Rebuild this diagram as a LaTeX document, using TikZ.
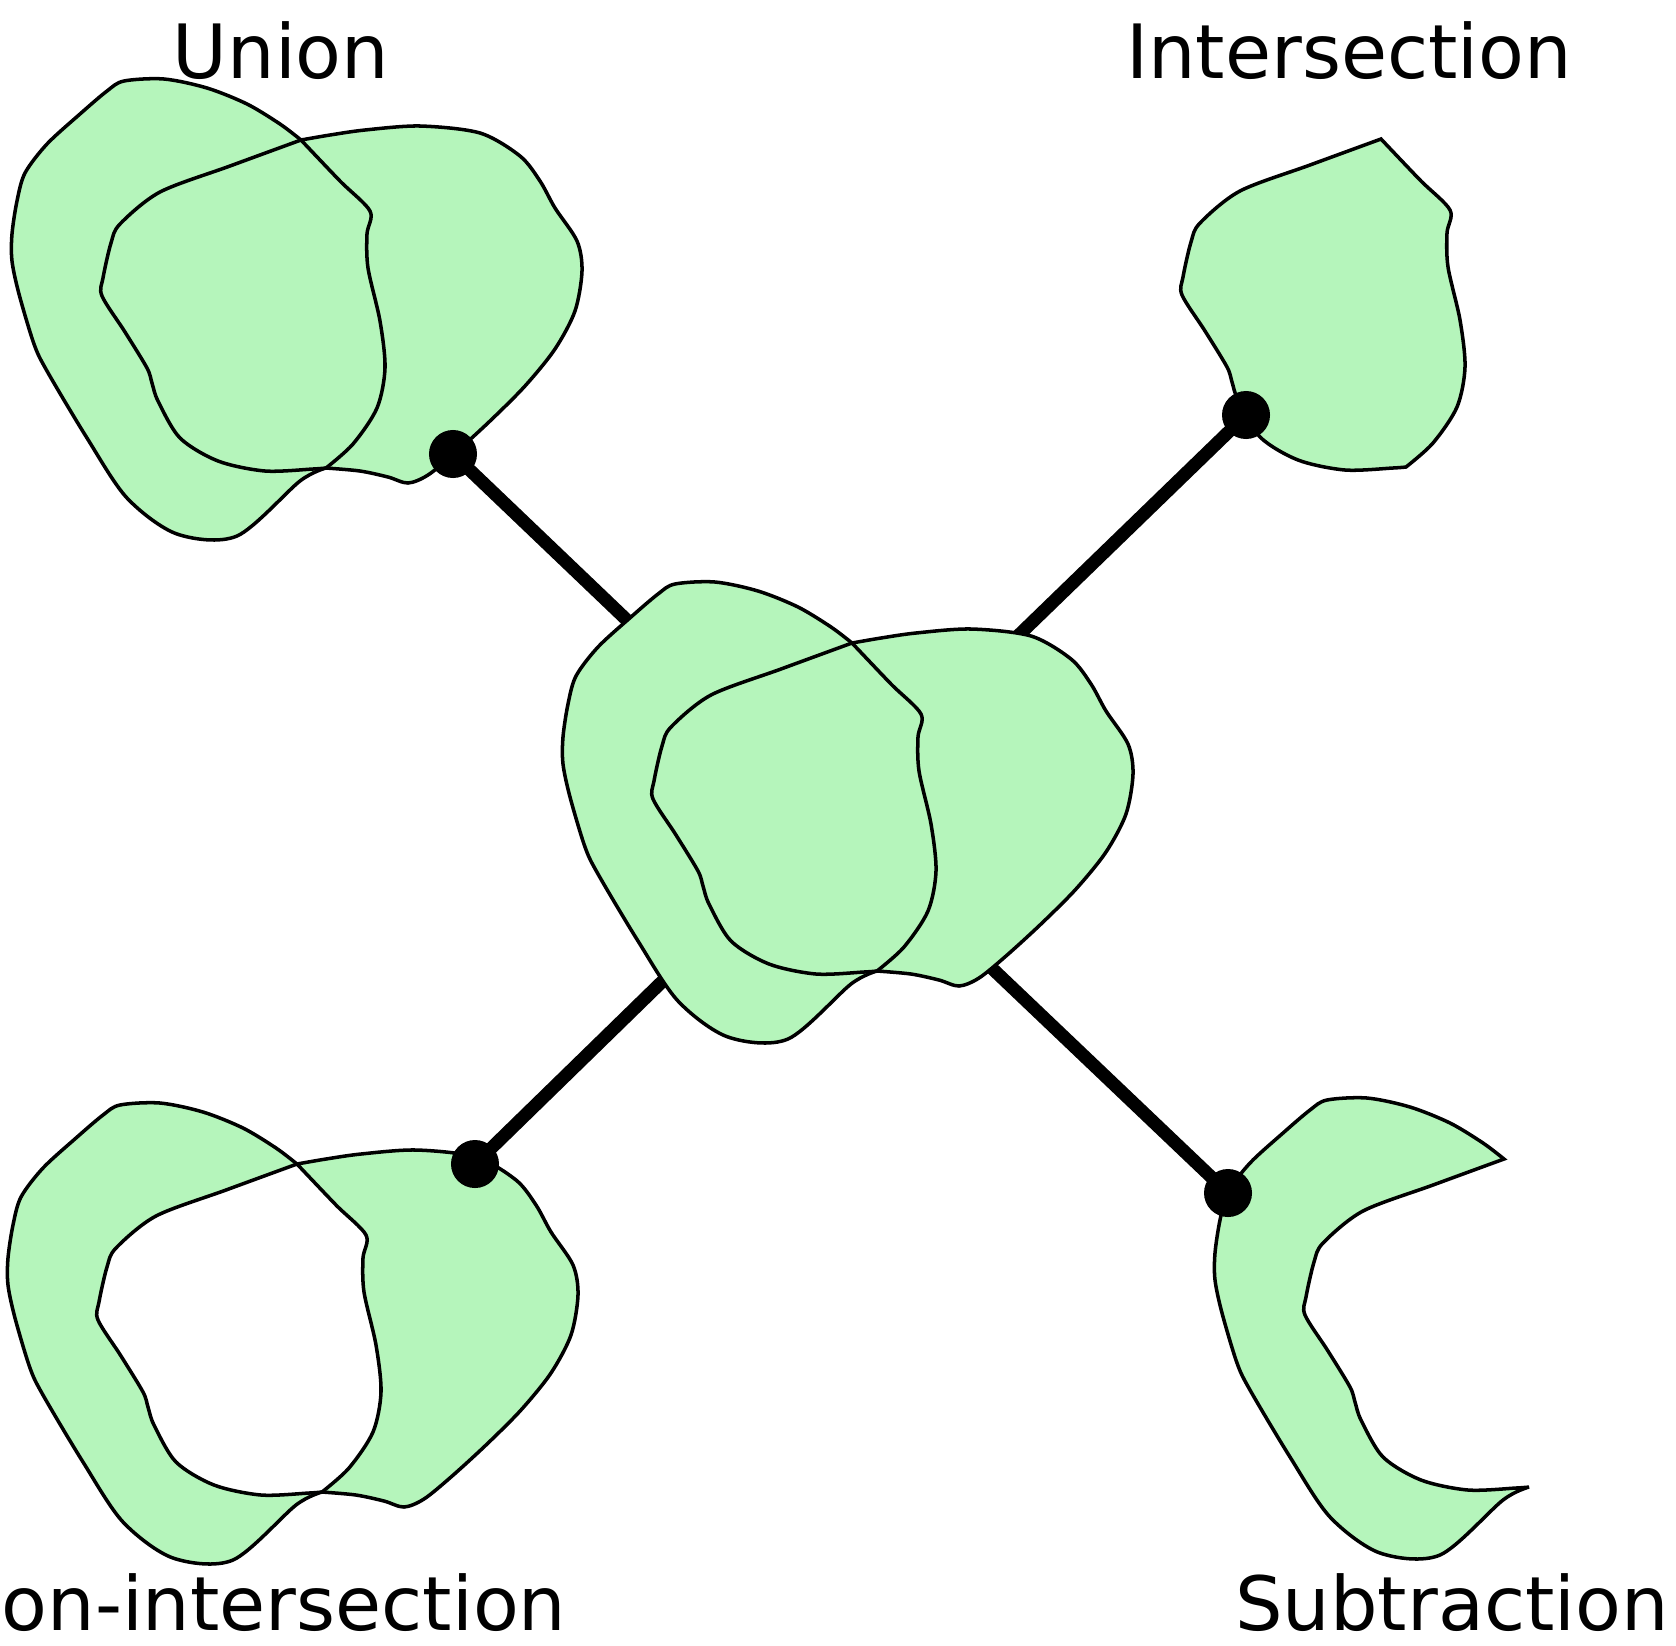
\documentclass[tikz,border=0pt]{standalone}
\usepackage{fontspec}
\setmainfont{DejaVu Sans}
\definecolor{blobgreen}{RGB}{181,245,187}
% blob A: outer part (P -> Q) and inner part (Q -> P); blob B: inner part (P -> Q) and outer part (Q -> P)
\def\blobAone{plot[smooth,tension=0.5] coordinates {(1381,139) (1360,123) (1327,103) (1287,87) (1244,78) (1204,80) (1187,90) (1160,113) (1127,143) (1105,172) (1097,200) (1092,233) (1092,260) (1099,293) (1114,343) (1127,370) (1167,437) (1207,497) (1257,533) (1317,535) (1380,480) (1406,467)}}
\def\blobAtwo{plot[smooth,tension=0.5] coordinates {(1406,467) (1433,443) (1457,407) (1465,367) (1460,320) (1448,267) (1447,233) (1450,210) (1420,180) (1381,139)}}
\def\blobBone{plot[smooth,tension=0.5] coordinates {(1381,139) (1310,165) (1240,191) (1200,223) (1191,242) (1183,277) (1182,295) (1205,331) (1227,367) (1232,382) (1238,400) (1260,437) (1298,460) (1345,470) (1393,468) (1406,467)}}
\def\blobBonerev{plot[smooth,tension=0.5] coordinates {(1406,467) (1393,468) (1345,470) (1298,460) (1260,437) (1238,400) (1232,382) (1227,367) (1205,331) (1182,295) (1183,277) (1191,242) (1200,223) (1240,191) (1310,165) (1381,139)}}
\def\blobBtwo{plot[smooth,tension=0.5] coordinates {(1406,467) (1440,470) (1468,476) (1488,482) (1508,474) (1535,452) (1570,420) (1605,385) (1635,348) (1655,310) (1662,270) (1657,240) (1635,207) (1620,180) (1600,155) (1560,132) (1500,125) (1445,129) (1410,134) (1381,139)}}
\edef\pathA{\blobAone -- \blobAtwo -- cycle}
\edef\pathB{\blobBone -- \blobBtwo -- cycle}
\edef\pathXor{\blobAone -- \blobAtwo -- cycle \blobBone -- \blobBtwo -- cycle}
\edef\pathInter{\blobBone -- \blobAtwo -- cycle}
\edef\pathSub{\blobAone -- \blobBonerev -- cycle}
\begin{document}
\begin{tikzpicture}[x=0.01cm,y=-0.01cm,
  blob/.style={fill=blobgreen},
  edge/.style={draw=black,line width=1.0pt},
  link/.style={draw=black,line width=3.7pt},
  dot/.style={circle,fill=black,inner sep=0pt,minimum size=0.48cm},
  lab/.style={font=\fontsize{21.3pt}{24pt}\selectfont,inner sep=0pt}]
\useasboundingbox (0,0) rectangle (1676,1645);
\fill[white] (0,0) rectangle (1676,1645);

% Union
\begin{scope}[shift={(-1080,1)}]
  \fill[blob] \pathA;
  \fill[blob] \pathB;
  \draw[edge] \pathA;
  \draw[edge] \pathB;
\end{scope}

% Intersection
\begin{scope}
  \fill[blob] \pathInter;
  \draw[edge] \pathInter;
\end{scope}

% Non-intersection
\begin{scope}[shift={(-1084,1025)}]
  \fill[blob,even odd rule] \pathXor;
  \draw[edge] \pathA;
  \draw[edge] \pathB;
\end{scope}

% Subtraction
\begin{scope}[shift={(123,1020)}]
  \fill[blob] \pathSub;
  \draw[edge] \pathSub;
\end{scope}

% hub and dots
\coordinate (hub) at (832,816);
\node[dot] (udot) at (453,454) {};
\node[dot] (idot) at (1246,415) {};
\node[dot] (ndot) at (475,1164) {};
\node[dot] (sdot) at (1228,1193) {};
\draw[link] (udot.center) -- (hub);
\draw[link] (idot.center) -- (hub);
\draw[link] (ndot.center) -- (hub);
\draw[link] (sdot.center) -- (hub);

% Centre (union of both)
\begin{scope}[shift={(-529,504)}]
  \fill[blob] \pathA;
  \fill[blob] \pathB;
  \draw[edge] \pathA;
  \draw[edge] \pathB;
\end{scope}

% labels
\node[lab,anchor=base] (tunion) at (281,78) {Union};
\node[lab,anchor=base] (tinter) at (1349,78) {Intersection};
\node[lab,anchor=base west] (tnon) at (1,1630) {on-intersection};
\node[lab,anchor=base] (tsub) at (1452,1630) {Subtraction};
\end{tikzpicture}
\end{document}
